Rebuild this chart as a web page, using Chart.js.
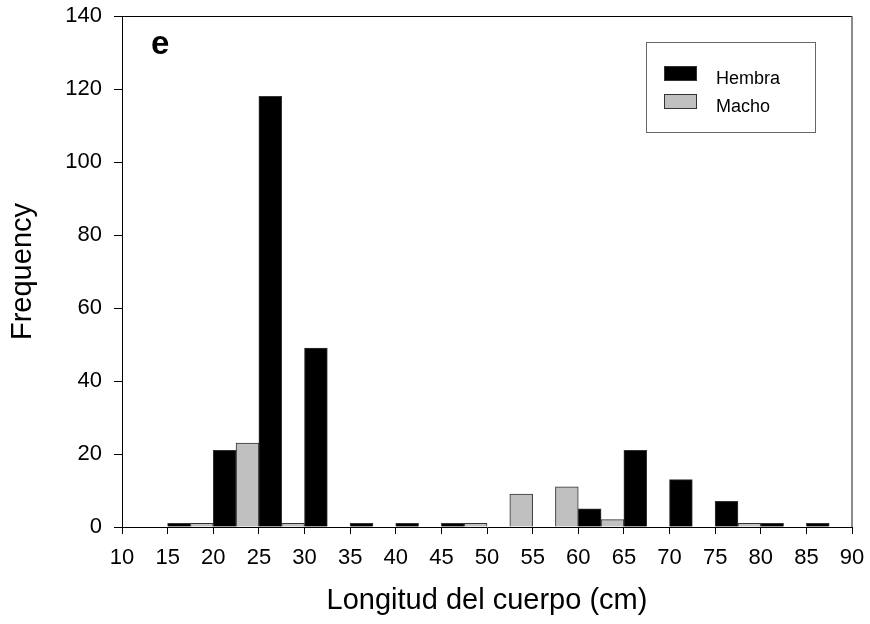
<!DOCTYPE html>
<html>
<head>
<meta charset="utf-8">
<title>Longitud del cuerpo</title>
<script src="https://cdn.jsdelivr.net/npm/chart.js@4.4.1/dist/chart.umd.min.js"></script>
<style>
  body { margin: 0; background: #fff; }
  canvas { display: block; }
</style>
</head>
<body>
<canvas id="lengthChart" width="870" height="624"></canvas>
<script>
// clases de 5 cm (inicio de cada clase)
const binStarts = [15, 20, 25, 30, 35, 40, 45, 50, 55, 60, 65, 70, 75, 80, 85];
const hembra = [1, 21, 118, 49, 1, 1, 1, 0, 0, 5, 21, 13, 7, 1, 1];
const macho = [1, 23, 1, 0, 0, 0, 1, 9, 11, 2, 0, 0, 1, 0, 0];
const binWidth = 5;
const xRange = [10, 90];
const yRange = [0, 140];
const yStep = 20;
const panelLabel = 'e';

const FONT = 'Liberation Sans, Arial, Helvetica, sans-serif';
Chart.defaults.font.family = FONT;
Chart.defaults.color = '#000';

// hembras en la primera mitad de la clase, machos en la segunda
const toPoints = (counts, shift) => binStarts.map((b, i) => ({ x: b + shift, y: counts[i] }));

const framePlugin = {
	id: 'frameAndLegend',
	afterDraw(chart) {
		const { ctx, chartArea: a } = chart;
		ctx.save();
		// borde superior y derecho
		ctx.strokeStyle = '#000';
		ctx.lineWidth = 1;
		ctx.beginPath();
		ctx.moveTo(a.left, a.top + 0.5);
		ctx.lineTo(a.right, a.top + 0.5);
		ctx.stroke();
		ctx.strokeStyle = '#666';
		ctx.lineWidth = 1.5;
		ctx.beginPath();
		ctx.moveTo(a.right, a.top);
		ctx.lineTo(a.right, a.bottom);
		ctx.stroke();

		// letra del panel
		ctx.fillStyle = '#000';
		ctx.font = 'bold 33px ' + FONT;
		ctx.textBaseline = 'alphabetic';
		ctx.textAlign = 'left';
		ctx.fillText(panelLabel, a.left + 29, a.top + 38);

		// leyenda
		const bx = 646, by = 42, bw = 169, bh = 90;
		ctx.strokeStyle = '#666';
		ctx.lineWidth = 1;
		ctx.strokeRect(bx + 0.5, by + 0.5, bw, bh);
		ctx.font = '18px ' + FONT;
		chart.data.datasets.forEach((ds, i) => {
			const sy = by + 24 + i * 28;
			ctx.fillStyle = ds.backgroundColor;
			ctx.fillRect(bx + 18, sy, 33, 15);
			ctx.strokeStyle = '#333';
			ctx.strokeRect(bx + 18.5, sy + 0.5, 32, 14);
			ctx.fillStyle = '#000';
			ctx.fillText(ds.label, bx + 70, sy + 18);
		});
		ctx.restore();
	},
};

new Chart(document.getElementById('lengthChart'), {
	type: 'bar',
	data: {
		datasets: [
			{
				label: 'Hembra',
				data: toPoints(hembra, binWidth / 4),
				backgroundColor: '#000000',
				borderColor: '#333333',
				borderWidth: 1,
			},
			{
				label: 'Macho',
				data: toPoints(macho, (3 * binWidth) / 4),
				backgroundColor: '#c0c0c0',
				borderColor: '#333333',
				borderWidth: 1,
			},
		],
	},
	plugins: [framePlugin],
	options: {
		responsive: false,
		devicePixelRatio: 1,
		animation: false,
		grouped: false,
		categoryPercentage: 1,
		barPercentage: 1,
		layout: { padding: { top: 16, right: 18, left: 0, bottom: 0 } },
		plugins: {
			legend: { display: false },
			tooltip: { enabled: false },
		},
		scales: {
			x: {
				type: 'linear',
				min: xRange[0],
				max: xRange[1],
				offset: false,
				ticks: { stepSize: binWidth, font: { size: 22 }, padding: 11, maxRotation: 0, autoSkip: false, color: '#000' },
				grid: { drawOnChartArea: false, drawTicks: true, tickLength: 7, color: '#000', offset: false },
				border: { color: '#000', width: 1 },
				title: { display: true, text: 'Longitud del cuerpo (cm)', font: { size: 29 }, color: '#000', padding: { top: 0, bottom: 6 } },
				afterFit: (s) => {
					s.height = 97;
					s.paddingLeft = 0;
					s.paddingRight = 0;
				},
			},
			y: {
				min: yRange[0],
				max: yRange[1],
				ticks: { stepSize: yStep, font: { size: 22 }, padding: 12, color: '#000' },
				grid: { drawOnChartArea: false, drawTicks: true, tickLength: 8, color: '#000' },
				border: { color: '#000', width: 1 },
				title: { display: true, text: 'Frequency', font: { size: 29 }, color: '#000', padding: { top: 6, bottom: 0 } },
				afterFit: (s) => {
					s.width = 122;
					s.paddingTop = 0;
					s.paddingBottom = 0;
				},
			},
		},
	},
});
</script>
</body>
</html>
